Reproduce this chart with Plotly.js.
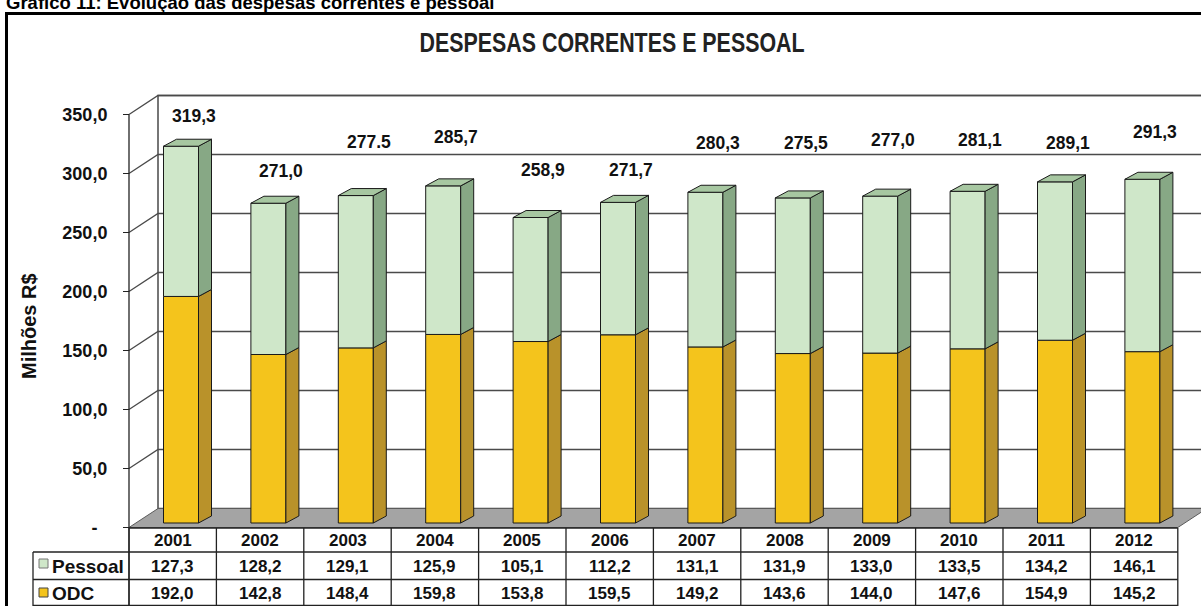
<!DOCTYPE html>
<html><head><meta charset="utf-8">
<script src="https://cdn.plot.ly/plotly-3.0.1.min.js"></script>
<style>html,body{margin:0;padding:0;background:#fff}#chart{width:1201px;height:606px}</style>
</head><body><div id="chart"></div>
<script>
// ---------------- DATA ----------------
const years = ['2001','2002','2003','2004','2005','2006','2007','2008','2009','2010','2011','2012'];
const pessoal = [127.3,128.2,129.1,125.9,105.1,112.2,131.1,131.9,133.0,133.5,134.2,146.1];
const odc = [192.0,142.8,148.4,159.8,153.8,159.5,149.2,143.6,144.0,147.6,154.9,145.2];
const totalLabels = ['319,3','271,0','277.5','285,7','258,9','271,7','280,3','275,5','277,0','281,1','289,1','291,3'];
const yTickVals = [0,50,100,150,200,250,300,350];
const yTickText = ['-\u00a0\u00a0','50,0','100,0','150,0','200,0','250,0','300,0','350,0'];
const seriesNames = ['Pessoal','ODC'];
const chartTitle = 'DESPESAS CORRENTES E PESSOAL';
const heading = 'Gráfico 11: Evolução das despesas correntes e pessoal';
const yTitle = 'Milhões R$';

// ---------------- LAYOUT / STYLE ----------------
const G = {W:1201,H:606,colX0:172.7,colW:87.4,zeroY:527.5,ppu:1.18,axisX:129,
  wallDx:29,wallDy:19,barLeft:-9.2,barW:35,barDx:13,barDy:7,barLift:4.5,
  tableRight:1177.8,labelLeft:33,rowYear:528,rowP:552,rowO:579.5,rowEnd:605.5};
const labelTopPx = [116,171,142,137,170,170,143,143,140,140,143,132]; // label placement (pixels)
const C = {pFront:'#cfe7c9',pSide:'#87a885',pTop:'#a7c7a1',oFront:'#f4c41c',oSide:'#b9922a',
  floor:'#a4a4a4',wall:'#4a4a4a',text:'#111'};
const FONT = 'Liberation Sans, Arial, sans-serif';

const xv = px => (px - G.colX0)/G.colW;
const yv = py => (G.zeroY - py)/G.ppu;
const fmt = v => v.toFixed(1).replace('.', ',');

const idx = years.map((_,i)=>i);
const lift = G.barLift/G.ppu;
const bOff = G.barLeft/G.colW, bW = G.barW/G.colW;
const ddx = G.barDx/G.colW, ddy = G.barDy/G.ppu;
const odcBase = odc.map(()=>lift);
const pesBase = odc.map(v=>v+lift);

function faces(bottoms, tops){
  const sx=[], sy=[], tx=[], ty=[];
  idx.forEach(i=>{
    const x0=i+bOff, x1=i+bOff+bW, b=bottoms[i], t=tops[i];
    sx.push(x1,x1+ddx,x1+ddx,x1,x1,null); sy.push(b,b+ddy,t+ddy,t,b,null);
    tx.push(x0,x0+ddx,x1+ddx,x1,x0,null); ty.push(t,t+ddy,t+ddy,t,t,null);
  });
  return {sx,sy,tx,ty};
}
const fO = faces(odcBase, odc.map((v,i)=>v+odcBase[i]));
const fP = faces(pesBase, pessoal.map((v,i)=>v+pesBase[i]));
const polyTrace = (x,y,fill)=>({type:'scatter',mode:'lines',x,y,fill:'toself',fillcolor:fill,
  line:{color:'#1a1a1a',width:1},hoverinfo:'skip',showlegend:false});

const traces = [
  {type:'bar',name:seriesNames[1],x:idx,y:odc,base:odcBase,offset:bOff,width:bW,
   marker:{color:C.oFront,line:{color:'#1a1a1a',width:1}},hoverinfo:'skip',showlegend:false},
  polyTrace(fO.sx,fO.sy,C.oSide),
  {type:'bar',name:seriesNames[0],x:idx,y:pessoal,base:pesBase,offset:bOff,width:bW,
   marker:{color:C.pFront,line:{color:'#1a1a1a',width:1}},hoverinfo:'skip',showlegend:false},
  polyTrace(fP.sx,fP.sy,C.pSide),
  polyTrace(fP.tx,fP.ty,C.pTop)
];

// shapes
const shapes = [];
const dyU = G.wallDy/G.ppu;
const backX = xv(G.axisX+G.wallDx), frontX = xv(G.axisX), farX = xv(1240);
shapes.push({type:'rect',layer:'below',xref:'x',yref:'y',x0:backX,x1:farX,y0:dyU,y1:350+dyU,
  fillcolor:'#fff',line:{color:C.wall,width:1.5}});
yTickVals.forEach(v=>{
  if(v===0) return;
  shapes.push({type:'path',layer:'below',xref:'x',yref:'y',
    path:`M${frontX},${v} L${backX},${v+dyU} L${farX},${v+dyU}`,line:{color:C.wall,width:1.3}});
});
const tR = xv(G.tableRight);
shapes.push({type:'path',layer:'below',xref:'x',yref:'y',
  path:`M${frontX},0 L${tR},0 L${xv(G.tableRight+G.wallDx)},${dyU} L${backX},${dyU} Z`,
  fillcolor:C.floor,line:{color:'#5a5a5a',width:1}});
shapes.push({type:'line',layer:'above',xref:'x',yref:'y',x0:frontX,x1:frontX,y0:350,y1:yv(G.H),
  line:{color:'#222',width:1.3}});
const hl=(py,x0px)=>shapes.push({type:'line',xref:'x',yref:'y',x0:xv(x0px),x1:tR,y0:yv(py),y1:yv(py),line:{color:'#222',width:1.3}});
hl(G.rowYear,G.axisX); hl(G.rowP,G.labelLeft); hl(G.rowO,G.labelLeft); hl(G.rowEnd,G.labelLeft);
for(let k=0;k<=years.length;k++){
  const x = xv(G.axisX + k*G.colW);
  shapes.push({type:'line',xref:'x',yref:'y',x0:x,x1:x,y0:yv(G.rowYear),y1:yv(G.H+5),line:{color:'#222',width:1.3}});
}
shapes.push({type:'line',xref:'x',yref:'y',x0:xv(G.labelLeft),x1:xv(G.labelLeft),y0:yv(G.rowP),y1:yv(G.H+5),line:{color:'#222',width:1.3}});
shapes.push({type:'rect',xref:'x',yref:'y',x0:xv(39),x1:xv(48),y0:yv(559),y1:yv(568),fillcolor:C.pFront,line:{color:'#777',width:1}});
shapes.push({type:'rect',xref:'x',yref:'y',x0:xv(39),x1:xv(48),y0:yv(588),y1:yv(597),fillcolor:C.oFront,line:{color:'#444',width:1}});
shapes.push({type:'rect',xref:'x',yref:'y',x0:xv(6.5),x1:xv(1230),y0:yv(13.5),y1:yv(640),line:{color:'#000',width:3}});

// annotations
const ann = [];
const A = (x,y,text,size,opts={})=>ann.push(Object.assign({xref:'x',yref:'y',x,y,text,showarrow:false,
  font:{family:FONT,size,color:C.text,weight:'bold'},xanchor:'center',yanchor:'middle'},opts));
A(xv(4),yv(15),heading,18.5,{xanchor:'left',yanchor:'bottom',font:{family:FONT,size:18.5,color:'#000',weight:'bold'}});
A(xv(612),yv(42),chartTitle,28,{font:{family:FONT,size:28,color:'#222',weight:'bold'}});
A(xv(29),yv(326),yTitle,20,{textangle:-90});
idx.forEach(i=>{
  A(i + 21/G.colW, yv(labelTopPx[i]), totalLabels[i], 17.5);
  A(i, yv(540), years[i], 17);
  A(i, yv(566), fmt(pessoal[i]), 17);
  A(i, yv(593), fmt(odc[i]), 17);
});
A(xv(50),yv(566),seriesNames[0],19,{xanchor:'left'});
A(xv(50),yv(593),seriesNames[1],19,{xanchor:'left'});

const layout = {
  width:G.W,height:G.H,margin:{l:0,r:0,t:0,b:0},paper_bgcolor:'#fff',plot_bgcolor:'rgba(0,0,0,0)',
  barmode:'overlay',showlegend:false,
  xaxis:{range:[xv(0),xv(G.W)],visible:false,fixedrange:true},
  yaxis:{range:[yv(G.H),yv(0)],anchor:'free',position:G.axisX/G.W,showgrid:false,zeroline:false,
    showline:false,ticks:'outside',ticklen:6,tickcolor:'#222',tickwidth:1.3,
    tickvals:yTickVals,ticktext:yTickText,ticklabelstandoff:12,
    tickfont:{family:FONT,size:18,color:C.text,weight:'bold'},fixedrange:true},
  shapes,annotations:ann
};
Plotly.newPlot('chart',traces,layout,{staticPlot:true,displayModeBar:false}).then(gd=>{
  // condense the chart title like the narrow bold face of the original
  const t = gd.querySelectorAll('.annotation')[1];
  if(t){ const el = t.querySelector('text.annotation-text');
    if(el){ el.setAttribute('textLength','385'); el.setAttribute('lengthAdjust','spacingAndGlyphs'); } }
});
</script></body></html>
